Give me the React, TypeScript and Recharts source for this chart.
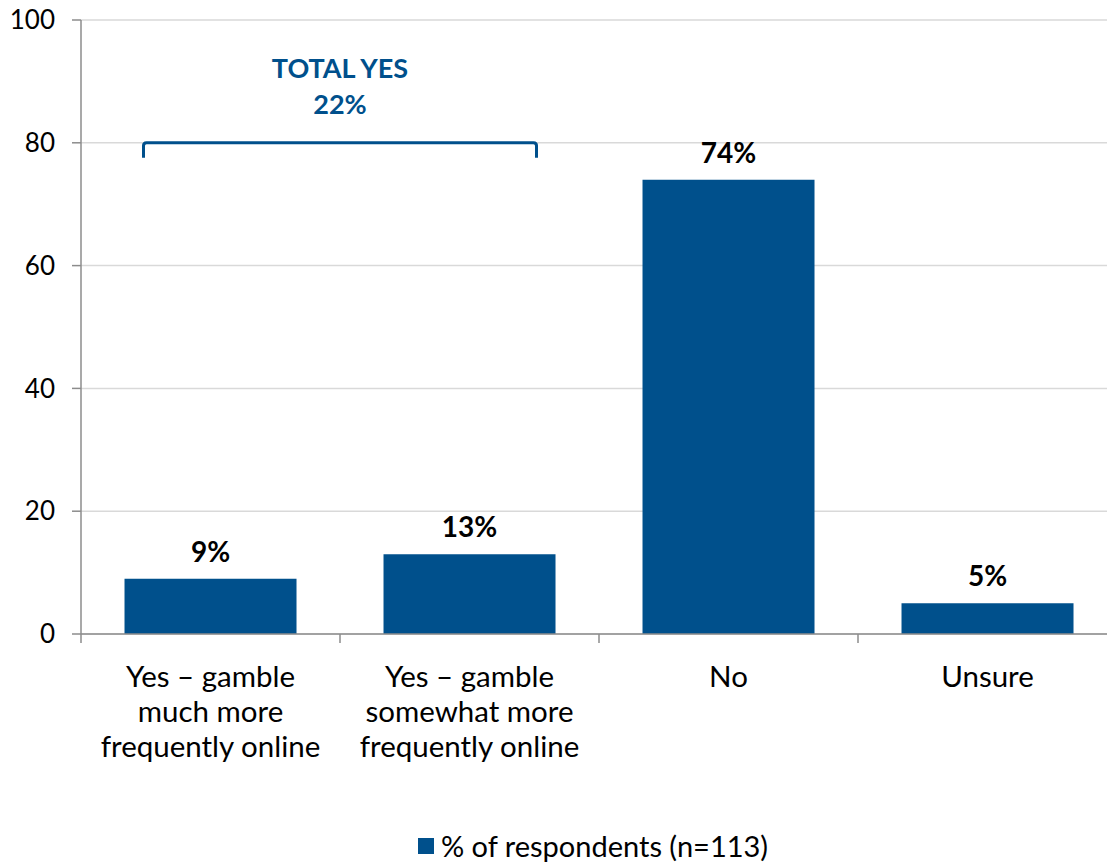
import { Bar, BarChart, CartesianGrid, LabelList, Legend, ReferenceLine, XAxis, YAxis } from "recharts";

const categories = ["Yes – gamble much more", "Yes – gamble somewhat more", "No", "Unsure"];
const tickLines = [
  ["Yes – gamble", "much more", "frequently online"],
  ["Yes – gamble", "somewhat more", "frequently online"],
  ["No"],
  ["Unsure"],
];
const respondents = [9, 13, 74, 5];
const yTicks = [0, 20, 40, 60, 80, 100];
const seriesName = "% of respondents (n=113)";
const totalYes = 22;

const BLUE = "#00508c";
const AXIS = "#8c8c8c";
const FONT = "Lato, 'Open Sans', sans-serif";

const data = categories.map((c, i) => ({ name: c, value: respondents[i] }));

function CategoryTick(props: any) {
  const { x, y, payload, index } = props;
  const half = payload?.offset ?? 129.5;
  const lines = tickLines[index] ?? [String(payload.value)];
  return (
    <g>
      <line x1={x - half} x2={x - half} y1={y - 9} y2={y} stroke={AXIS} strokeWidth={1.5} />
      {index === categories.length - 1 && (
        <line x1={x + half} x2={x + half} y1={y - 9} y2={y} stroke={AXIS} strokeWidth={1.5} />
      )}
      <text x={x} y={y} textAnchor="middle" fontFamily={FONT} fontSize={29.5} fill="#000">
        {lines.map((l, i) => (
          <tspan key={i} x={x} y={y + 44 + i * 35}>
            {l}
          </tspan>
        ))}
      </text>
    </g>
  );
}

// bracket over the two "yes" bars, with the total above it
function Bracket(props: any) {
  const { x1, x2, y1 } = props;
  if (x1 == null || y1 == null) return null;
  const l = Math.min(x1, x2) - 67;
  const r = Math.max(x1, x2) + 67;
  const mid = (l + r) / 2;
  return (
    <g>
      <path
        d={`M${l},${y1 + 15} L${l},${y1 + 3} Q${l},${y1} ${l + 3},${y1} L${r - 3},${y1} Q${r},${y1} ${r},${y1 + 3} L${r},${y1 + 15}`}
        fill="none"
        stroke={BLUE}
        strokeWidth={3}
      />
      <text x={mid} y={y1 - 65} textAnchor="middle" fontFamily={FONT} fontWeight="bold" fontSize={27} fill={BLUE}>
        TOTAL YES
      </text>
      <text x={mid} y={y1 - 29} textAnchor="middle" fontFamily={FONT} fontWeight="bold" fontSize={27} fill={BLUE}>
        {`${totalYes}%`}
      </text>
    </g>
  );
}

function LegendContent() {
  return (
    <div style={{ display: "flex", justifyContent: "center", alignItems: "center", height: 40, paddingTop: 4, boxSizing: "border-box", fontFamily: FONT, fontSize: 29, lineHeight: "32px", color: "#000" }}>
      <span style={{ display: "inline-block", width: 16, height: 16, background: BLUE, marginRight: 7 }} />
      <span>{seriesName}</span>
    </div>
  );
}

export default function App() {
  return (
    <div style={{ position: "absolute", left: 0, top: 0, width: 1107, height: 864, overflow: "hidden", background: "#fff" }}>
      <BarChart width={1120} height={864} data={data} margin={{ top: 20, right: 3, left: 0, bottom: 0 }} barCategoryGap="16.8%">
        <CartesianGrid vertical={false} stroke="#d9d9d9" strokeWidth={1.5} />
        <XAxis
          dataKey="name"
          height={190}
          interval={0}
          tickLine={false}
          tickSize={9}
          tickMargin={0}
          axisLine={{ stroke: AXIS, strokeWidth: 1.5 }}
          tick={<CategoryTick />}
        />
        <YAxis
          width={81}
          domain={[0, 100]}
          ticks={yTicks}
          tickSize={9}
          tickMargin={17}
          axisLine={{ stroke: AXIS, strokeWidth: 1.5 }}
          tickLine={{ stroke: AXIS, strokeWidth: 1.5 }}
          tick={{ fill: "#000", fontSize: 26, fontFamily: FONT }}
        />
        <ReferenceLine
          segment={[
            { x: categories[0], y: 80 },
            { x: categories[1], y: 80 },
          ]}
          shape={<Bracket />}
        />
        <Bar dataKey="value" name={seriesName} fill={BLUE} isAnimationActive={false}>
          <LabelList
            dataKey="value"
            position="top"
            offset={17}
            formatter={(v: any) => `${v}%`}
            fill="#000"
            fontWeight="bold"
            fontSize={28}
            fontFamily={FONT}
          />
        </Bar>
        <Legend
          verticalAlign="bottom"
          content={<LegendContent />}
          wrapperStyle={{ left: 0, width: 1186, bottom: 0, height: 40 }}
        />
      </BarChart>
    </div>
  );
}
